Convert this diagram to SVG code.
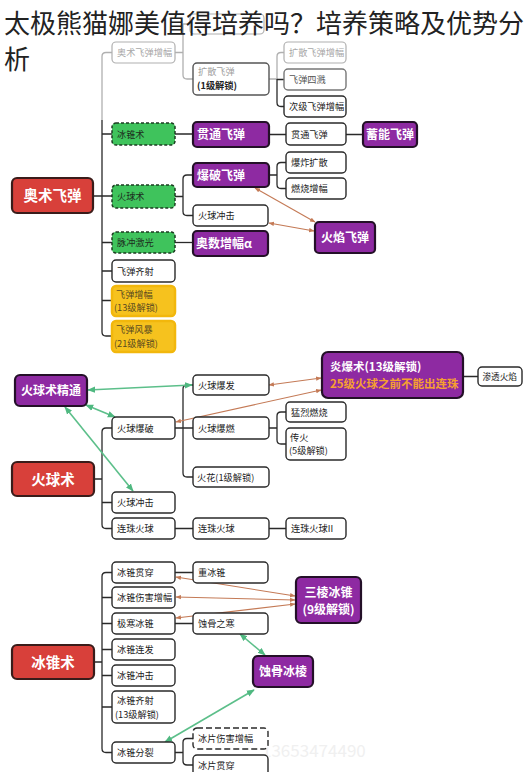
<svg xmlns="http://www.w3.org/2000/svg" width="531" height="772" viewBox="0 0 531 772">
<defs>
<style>
.t{font-family:"Noto Sans CJK SC","Noto Sans",sans-serif}
.title{font-size:26px;fill:#222}
.w rect{fill:#fff;stroke:#2a2a2a;stroke-width:1.4}
.w text{font-size:9.2px;fill:#222}
.g rect{fill:#fff;stroke:#b0b0b0;stroke-width:1.2}
.g text{font-size:9.2px;fill:#a8a8a8}
.gr rect{fill:#3fc35c;stroke:#1d3d22;stroke-width:1.5;stroke-dasharray:3 2}
.gr text{font-size:9.2px;fill:#1d2d1d}
.y rect{fill:#f6c21e;stroke:#f2b70c;stroke-width:2.5}
.y text{font-size:9.2px;fill:#5a4a20}
.p rect{fill:#8e2aa2;stroke:#241028;stroke-width:2.2}
.p text{font-size:12px;font-weight:bold;fill:#fff}
.r rect{fill:#d8403a;stroke:#3a1c1a;stroke-width:2.2}
.r text{font-size:14.5px;font-weight:bold;fill:#fff;text-anchor:middle}
.ln{fill:none;stroke:#2a2a2a;stroke-width:1.3}
.lg{fill:none;stroke:#b0b0b0;stroke-width:1.3}
.or{fill:none;stroke:#c47a56;stroke-width:1.1;marker-start:url(#ao);marker-end:url(#ao)}
.gn{fill:none;stroke:#5cbf8a;stroke-width:1.6;marker-start:url(#ag);marker-end:url(#ag)}
</style>
<marker id="ao" viewBox="0 0 10 10" refX="9" refY="5" markerWidth="5" markerHeight="5" orient="auto-start-reverse"><path d="M0,1 L10,5 L0,9 z" fill="#c47a56"/></marker>
<marker id="ag" viewBox="0 0 10 10" refX="9" refY="5" markerWidth="5" markerHeight="5" orient="auto-start-reverse"><path d="M0,1 L10,5 L0,9 z" fill="#4fb880"/></marker>
</defs>
<rect width="531" height="772" fill="#fff"/>

<g id="connectors">
<!-- section 1 -->
<path class="lg" d="M112,52.5 H106 Q102,52.5 102,56.5 V120"/>
<path class="ln" d="M102,120 V332 Q102,336 106,336 H112"/>
<path class="ln" d="M93,196 H112 M102,134 H112 M102,242.5 H112 M102,271 H112 M102,300.5 H112"/>
<path class="lg" d="M175,52.5 H183 M183,24 V75 Q183,79 187,79 H193 M183,24 H190"/>
<path class="lg" d="M269,79 H277 M284,52.5 H281 Q277,52.5 277,56.5 V79"/>
<path class="ln" d="M277,79 V102.5 Q277,106.5 281,106.5 H284 M277,79.5 H284"/>
<path class="ln" d="M175,134 H193 M269,134.5 H286 M346,134.5 H363"/>
<path class="ln" d="M175,196.5 H183 M193,175 H187 Q183,175 183,179 V211.5 Q183,215.5 187,215.5 H193"/>
<path class="ln" d="M269,175 H277 M286,162.5 H281 Q277,162.5 277,166.5 V184.5 Q277,188.5 281,188.5 H286"/>
<path class="ln" d="M175,242.5 H193"/>
<path class="or" d="M255,188 L315,222"/>
<path class="or" d="M269,223 L314,231"/>
<!-- section 2 -->
<path class="ln" d="M94,479 H102 M112,428 H106 Q102,428 102,432 V524.5 Q102,528.5 106,528.5 H112 M102,502.5 H112"/>
<path class="ln" d="M175,428 H193 M193,385 H187 Q183,385 183,389 V473 Q183,477 187,477 H193"/>
<path class="ln" d="M269,428 H277 M286,412 H281 Q277,412 277,416 V440 Q277,444 281,444 H286"/>
<path class="ln" d="M175,528.5 H193 M269,528.5 H286 M463,376.5 H478"/>
<path class="or" d="M269,385 L321,378"/>
<path class="or" d="M176,422 L321,390"/>
<path class="gn" d="M88,390 L192,385"/>
<path class="gn" d="M86,405 L115,417"/>
<path class="gn" d="M65,407 L133,491"/>
<!-- section 3 -->
<path class="ln" d="M94,662 H102 M112,572.5 H106 Q102,572.5 102,576.5 V748.5 Q102,752.5 106,752.5 H112"/>
<path class="ln" d="M102,597.5 H112 M102,623.5 H112 M102,649.5 H112 M102,675.5 H112 M102,707 H112"/>
<path class="ln" d="M175,572.5 H193 M175,623.5 H193"/>
<path class="ln" d="M175,752.5 H183 M193,738.5 H187 Q183,738.5 183,742.5 V761 Q183,765 187,765 H193"/>
<path class="or" d="M176,577 L295,596"/>
<path class="or" d="M176,597 L295,600"/>
<path class="or" d="M176,618 L295,604"/>
<path class="gn" d="M240,634 L265,655"/>
<path class="gn" d="M165,742 L254,690"/>
</g>

<text class="t" x="262" y="757" font-size="17" fill="#f0f0f0">13653474490</text>

<!-- section 1 nodes -->
<g id="n_hidden" class="g"><rect x="190" y="14" width="74" height="20" rx="4"/></g>
<g id="n_aoshu" class="r"><rect x="12" y="178" width="81" height="35" rx="5"/><text class="t" x="52.5" y="201">奥术飞弹</text></g>
<g id="n_aszf" class="g"><rect x="112" y="42" width="63" height="21" rx="4"/><text class="t" x="117" y="56">奥术飞弹增幅</text></g>
<g id="n_ksfd" class="w"><rect x="193" y="63" width="76" height="32" rx="4" style="stroke:#555"/><text class="t" x="198" y="75" style="fill:#a0a0a0">扩散飞弹</text><text class="t" x="197" y="89" style="font-weight:bold">(1级解锁)</text></g>
<g id="n_kszf" class="g"><rect x="284" y="42" width="62" height="21" rx="4"/><text class="t" x="289" y="56">扩散飞弹增幅</text></g>
<g id="n_fdsj" class="w"><rect x="284" y="69" width="62" height="21" rx="4" style="stroke:#777"/><text class="t" x="289" y="83" style="fill:#555">飞弹四溅</text></g>
<g id="n_cjfd" class="w"><rect x="284" y="96" width="62" height="21" rx="4"/><text class="t" x="289" y="110">次级飞弹增幅</text></g>
<g id="n_bzs1" class="gr"><rect x="112" y="123" width="63" height="22" rx="4"/><text class="t" x="117" y="137.5">冰锥术</text></g>
<g id="n_gtfd" class="p"><rect x="193" y="122" width="76" height="25" rx="4"/><text class="t" x="197" y="139">贯通飞弹</text></g>
<g id="n_gtfd2" class="w"><rect x="286" y="123" width="60" height="22" rx="4"/><text class="t" x="291" y="137.5">贯通飞弹</text></g>
<g id="n_xnfd" class="p"><rect x="363" y="122" width="54" height="25" rx="4"/><text class="t" x="390" y="139" text-anchor="middle">蓄能飞弹</text></g>
<g id="n_hqs1" class="gr"><rect x="112" y="185" width="63" height="23" rx="4"/><text class="t" x="117" y="200">火球术</text></g>
<g id="n_bpfd" class="p"><rect x="193" y="163" width="76" height="24" rx="4"/><text class="t" x="197" y="179.5">爆破飞弹</text></g>
<g id="n_hqcj1" class="w"><rect x="193" y="205" width="75" height="21" rx="4"/><text class="t" x="198" y="219">火球冲击</text></g>
<g id="n_bzks" class="w"><rect x="286" y="152" width="60" height="21" rx="4"/><text class="t" x="291" y="166">爆炸扩散</text></g>
<g id="n_rszf" class="w"><rect x="286" y="178" width="60" height="21" rx="4"/><text class="t" x="291" y="192">燃烧增幅</text></g>
<g id="n_hyfd" class="p"><rect x="315" y="222" width="60" height="31" rx="4"/><text class="t" x="345" y="242" text-anchor="middle">火焰飞弹</text></g>
<g id="n_mcjg" class="gr"><rect x="112" y="232" width="63" height="21" rx="4"/><text class="t" x="117" y="246">脉冲激光</text></g>
<g id="n_aszf2" class="p"><rect x="193" y="231" width="75" height="25" rx="4"/><text class="t" x="196" y="248">奥数增幅α</text></g>
<g id="n_fdqs" class="w"><rect x="112" y="260" width="63" height="22" rx="4"/><text class="t" x="117" y="274.5">飞弹齐射</text></g>
<g id="n_fdzf" class="y"><rect x="112" y="286" width="63" height="30" rx="4"/><text class="t" x="116" y="298">飞弹增幅</text><text class="t" x="114" y="311">(13级解锁)</text></g>
<g id="n_fdfb" class="y"><rect x="112" y="321" width="63" height="31" rx="4"/><text class="t" x="116" y="333">飞弹风暴</text><text class="t" x="114" y="346.5">(21级解锁)</text></g>

<!-- section 2 nodes -->
<g id="n_hqsjt" class="p"><rect x="15" y="375" width="72" height="31" rx="5"/><text class="t" x="51" y="395" text-anchor="middle">火球术精通</text></g>
<g id="n_hqs2" class="r"><rect x="12" y="462" width="82" height="34" rx="5"/><text class="t" x="53" y="484.5">火球术</text></g>
<g id="n_hqbp" class="w"><rect x="112" y="417" width="63" height="22" rx="4"/><text class="t" x="117" y="431.5">火球爆破</text></g>
<g id="n_hqcj2" class="w"><rect x="112" y="492" width="63" height="21" rx="4"/><text class="t" x="117" y="506">火球冲击</text></g>
<g id="n_lzhq1" class="w"><rect x="112" y="518" width="63" height="21" rx="4"/><text class="t" x="117" y="532">连珠火球</text></g>
<g id="n_hqbf" class="w"><rect x="193" y="375" width="76" height="20" rx="4"/><text class="t" x="198" y="388.5">火球爆发</text></g>
<g id="n_hqbr" class="w"><rect x="193" y="417" width="76" height="22" rx="4"/><text class="t" x="198" y="431.5">火球爆燃</text></g>
<g id="n_hh" class="w"><rect x="193" y="467" width="76" height="20" rx="4"/><text class="t" x="197" y="480.5">火花(1级解锁)</text></g>
<g id="n_lzhq2" class="w"><rect x="193" y="518" width="76" height="21" rx="4"/><text class="t" x="198" y="532">连珠火球</text></g>
<g id="n_mlrs" class="w"><rect x="286" y="402" width="60" height="20" rx="4"/><text class="t" x="291" y="415.5">猛烈燃烧</text></g>
<g id="n_ch" class="w"><rect x="286" y="428" width="60" height="32" rx="4"/><text class="t" x="290" y="441">传火</text><text class="t" x="289" y="454">(5级解锁)</text></g>
<g id="n_lzhq3" class="w"><rect x="286" y="518" width="60" height="21" rx="4"/><text class="t" x="291" y="532">连珠火球II</text></g>
<g id="n_ybs" class="p"><rect x="322" y="352" width="141" height="46" rx="6"/><text class="t" x="330" y="371" style="font-size:11.5px">炎爆术(13级解锁)</text><text class="t" x="330" y="388" style="font-size:11.5px;fill:#f5a030">25级火球之前不能出连珠</text></g>
<g id="n_stzy" class="w"><rect x="478" y="367" width="44" height="19" rx="4"/><text class="t" x="482.5" y="380" style="font-size:8.6px">渗透火焰</text></g>

<!-- section 3 nodes -->
<g id="n_bzs3" class="r"><rect x="12" y="645" width="82" height="34" rx="5"/><text class="t" x="53" y="667.5">冰锥术</text></g>
<g id="n_bzgc" class="w"><rect x="112" y="562" width="63" height="21" rx="4"/><text class="t" x="117" y="576">冰锥贯穿</text></g>
<g id="n_bzsh" class="w"><rect x="112" y="587" width="63" height="21" rx="4"/><text class="t" x="117" y="601">冰锥伤害增幅</text></g>
<g id="n_jhbz" class="w"><rect x="112" y="613" width="63" height="21" rx="4"/><text class="t" x="117" y="627">极寒冰锥</text></g>
<g id="n_bzlf" class="w"><rect x="112" y="639" width="63" height="21" rx="4"/><text class="t" x="117" y="653">冰锥连发</text></g>
<g id="n_bzcj" class="w"><rect x="112" y="665" width="63" height="21" rx="4"/><text class="t" x="117" y="679">冰锥冲击</text></g>
<g id="n_bzqs" class="w"><rect x="112" y="691" width="63" height="32" rx="4"/><text class="t" x="117" y="704">冰锥齐射</text><text class="t" x="115" y="717.5">(13级解锁)</text></g>
<g id="n_bzfl" class="w"><rect x="112" y="742" width="63" height="21" rx="4"/><text class="t" x="117" y="756">冰锥分裂</text></g>
<g id="n_zbz" class="w"><rect x="193" y="562" width="75" height="21" rx="4"/><text class="t" x="198" y="576">重冰锥</text></g>
<g id="n_sgzh" class="w"><rect x="193" y="613" width="75" height="21" rx="4"/><text class="t" x="198" y="627">蚀骨之寒</text></g>
<g id="n_bpsh" class="w"><rect x="193" y="728" width="75" height="21" rx="4" style="stroke-dasharray:6 3"/><text class="t" x="198" y="742">冰片伤害增幅</text></g>
<g id="n_bpgc" class="w"><rect x="193" y="755" width="75" height="22" rx="4"/><text class="t" x="198" y="769">冰片贯穿</text></g>
<g id="n_slbz" class="p"><rect x="296" y="577" width="65" height="46" rx="5"/><text class="t" x="328.5" y="597" text-anchor="middle">三棱冰锥</text><text class="t" x="328.5" y="614" text-anchor="middle">(9级解锁)</text></g>
<g id="n_sgbl" class="p"><rect x="253" y="656" width="60" height="31" rx="5"/><text class="t" x="283" y="676" text-anchor="middle">蚀骨冰棱</text></g>

<g id="title">
<text class="t title" x="4" y="33">太极熊猫娜美值得培养吗？培养策略及优势分</text>
<text class="t title" x="4" y="69">析</text>
</g>
</svg>
